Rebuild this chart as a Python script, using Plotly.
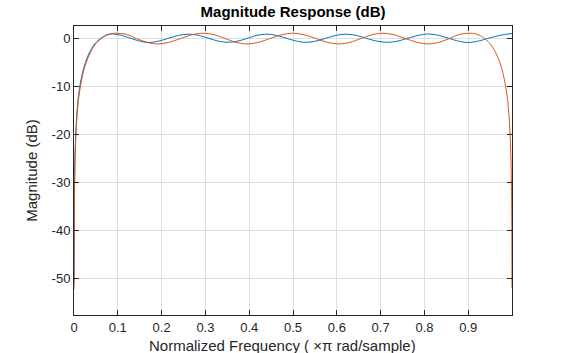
import plotly.graph_objects as go

# Normalized frequency (x pi rad/sample) and magnitude (dB)
freq_orange = [0.0001, 0.0005, 0.001, 0.002, 0.003, 0.004, 0.006, 0.008, 0.01, 0.013,
               0.016, 0.02, 0.025, 0.03, 0.035, 0.04, 0.045, 0.05, 0.055, 0.06,
               0.065, 0.07, 0.075, 0.08, 0.087, 0.095, 0.12, 0.143, 0.167, 0.19,
               0.216, 0.243, 0.269, 0.295, 0.32, 0.345, 0.37, 0.395, 0.421, 0.447,
               0.474, 0.5, 0.526, 0.553, 0.579, 0.605, 0.63, 0.655, 0.68, 0.705,
               0.731, 0.757, 0.784, 0.81, 0.833, 0.857, 0.88, 0.905, 0.913, 0.92,
               0.925, 0.93, 0.935, 0.94, 0.945, 0.95, 0.955, 0.96, 0.965, 0.97,
               0.975, 0.98, 0.984, 0.987, 0.99, 0.992, 0.994, 0.996, 0.997, 0.998,
               0.999, 0.9995, 0.9999]
mag_orange = [-52.3, -40, -33.5, -27, -23.5, -21, -17.5, -15, -13, -11,
              -9.4, -7.6, -5.9, -4.6, -3.5, -2.6, -1.8, -1.2, -0.7, -0.3,
              0.05, 0.35, 0.6, 0.78, 0.93, 1.0, 0.75, -0.12, -0.9, -1.24,
              -0.91, -0.12, 0.67, 1.0, 0.67, -0.12, -0.91, -1.24, -0.91, -0.12,
              0.67, 1.0, 0.67, -0.12, -0.91, -1.24, -0.91, -0.12, 0.67, 1.0,
              0.67, -0.12, -0.91, -1.24, -0.9, -0.12, 0.75, 1.0, 0.93, 0.78,
              0.6, 0.35, 0.05, -0.3, -0.7, -1.2, -1.8, -2.6, -3.5, -4.6,
              -5.9, -7.6, -9.4, -11, -13, -15, -17.5, -21, -23.5, -27,
              -33.5, -40, -52.0]

freq_blue = [0.0001, 0.0005, 0.001, 0.002, 0.003, 0.004, 0.006, 0.008, 0.01, 0.013,
             0.016, 0.02, 0.025, 0.03, 0.035, 0.04, 0.045, 0.05, 0.055, 0.06,
             0.065, 0.07, 0.075, 0.08, 0.088, 0.108, 0.129, 0.15, 0.17, 0.193,
             0.216, 0.239, 0.262, 0.284, 0.307, 0.33, 0.352, 0.374, 0.396, 0.418,
             0.44, 0.462, 0.485, 0.508, 0.53, 0.552, 0.575, 0.598, 0.62, 0.644,
             0.667, 0.691, 0.715, 0.739, 0.762, 0.786, 0.81, 0.832, 0.855, 0.878,
             0.9, 0.925, 0.95, 0.975, 0.9999]
mag_blue = [-51, -38, -32, -26, -22.5, -20, -16.5, -14, -12.2, -10.2,
            -8.7, -7.0, -5.4, -4.1, -3.1, -2.2, -1.5, -0.95, -0.5, -0.1,
            0.2, 0.45, 0.65, 0.77, 0.85, 0.55, -0.05, -0.65, -0.95, -0.65,
            -0.05, 0.55, 0.8, 0.55, -0.05, -0.65, -0.9, -0.65, -0.05, 0.55,
            0.8, 0.55, -0.05, -0.65, -0.9, -0.65, -0.05, 0.55, 0.8, 0.55,
            -0.05, -0.65, -0.9, -0.65, -0.05, 0.55, 0.85, 0.55, -0.05, -0.65,
            -0.95, -0.6, 0.05, 0.6, 0.95]

x_ticks = [0, 0.1, 0.2, 0.3, 0.4, 0.5, 0.6, 0.7, 0.8, 0.9]
x_labels = ["0", "0.1", "0.2", "0.3", "0.4", "0.5", "0.6", "0.7", "0.8", "0.9"]
y_ticks = [-50, -40, -30, -20, -10, 0]
y_labels = ["-50", "-40", "-30", "-20", "-10", "0"]

AX = "#262626"
FONT = "Liberation Sans, Arial, Helvetica, sans-serif"

fig = go.Figure()
fig.add_trace(go.Scatter(x=freq_blue, y=mag_blue, mode="lines",
                         line=dict(color="#0072BD", width=1, shape="spline", smoothing=0.8),
                         showlegend=False))
fig.add_trace(go.Scatter(x=freq_orange, y=mag_orange, mode="lines",
                         line=dict(color="#D95319", width=1, shape="spline", smoothing=0.8),
                         showlegend=False))

axis_common = dict(showline=True, linecolor=AX, linewidth=1, mirror="ticks",
                   ticks="inside", ticklen=5, tickcolor=AX, tickwidth=1,
                   showgrid=True, gridcolor="#DFDFDF", gridwidth=1, zeroline=False,
                   automargin=False,
                   tickfont=dict(family=FONT, size=13, color=AX))

fig.update_xaxes(range=[0, 0.9999], tickvals=x_ticks, ticktext=x_labels,
                 **axis_common)
fig.update_yaxes(range=[-57.7, 2.5], tickvals=y_ticks, ticktext=y_labels,
                 title=dict(text="Magnitude (dB)",
                            font=dict(family=FONT, size=15, color=AX), standoff=10),
                 **axis_common)

fig.add_annotation(text="Normalized Frequency ( \u00d7\u03c0 rad/sample)",
                   xref="paper", yref="paper", x=0.477, y=-0.105,
                   xanchor="center", yanchor="middle", showarrow=False,
                   font=dict(family=FONT, size=15, color=AX))

fig.update_layout(
    width=577, height=353,
    margin=dict(l=74, r=65, t=26, b=38),
    paper_bgcolor="white", plot_bgcolor="white",
    title=dict(text="Magnitude Response (dB)", x=0.508, xanchor="center",
               y=0.968, yanchor="middle",
               font=dict(family=FONT, size=15, color="#000000", weight="bold")),
)

fig.write_html("out.html")
